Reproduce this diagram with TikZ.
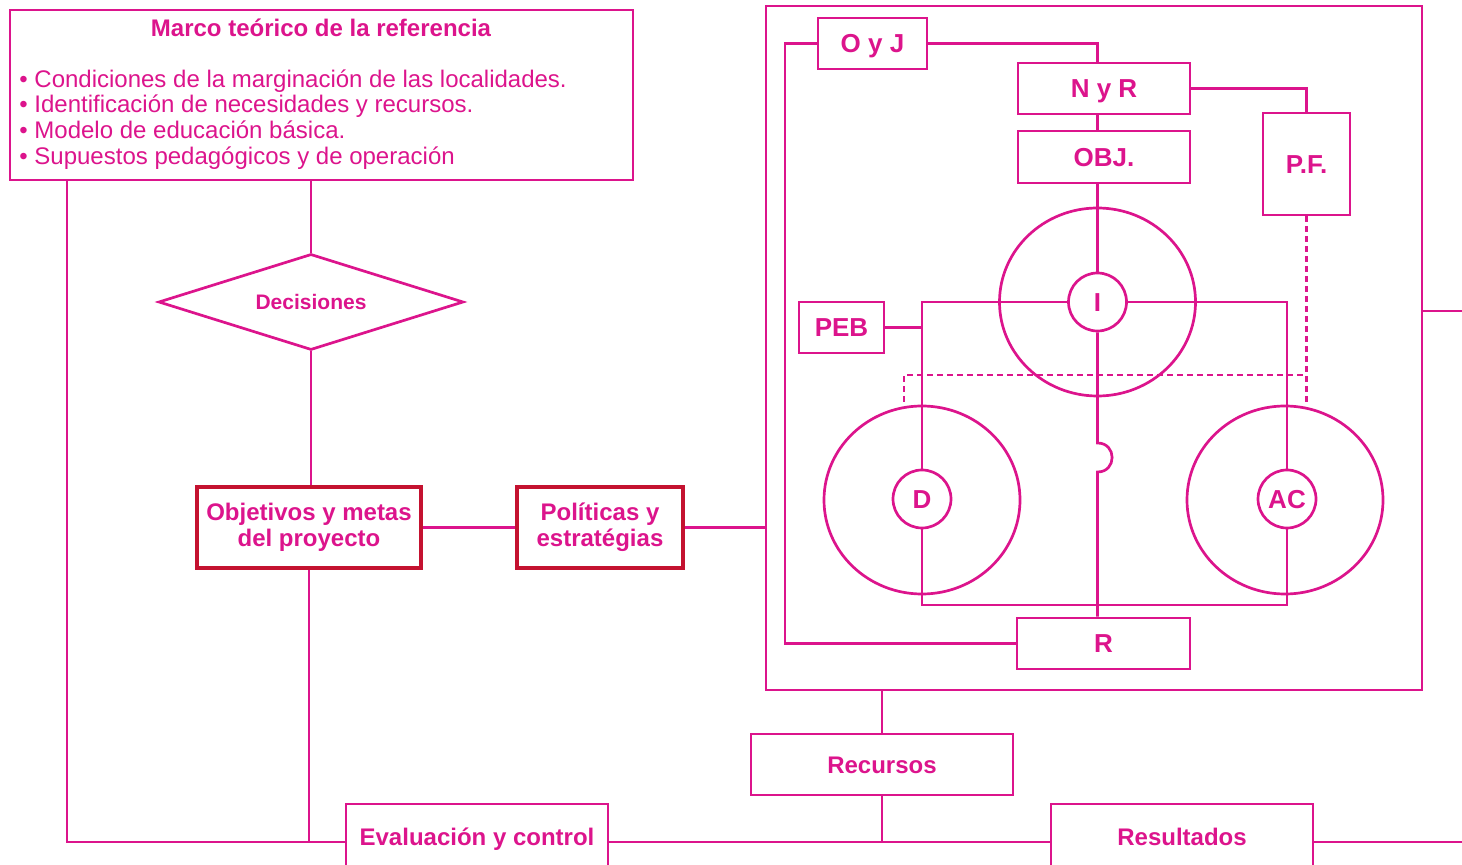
\documentclass[tikz,border=0pt]{standalone}
\usepackage{fontspec}
\setmainfont{Liberation Sans}
\usetikzlibrary{shapes.geometric}
\definecolor{mag}{RGB}{220,20,140}
\definecolor{dred}{RGB}{196,18,48}
\begin{document}
\begin{tikzpicture}[x=0.5pt,y=-0.5pt,
  ln/.style={draw=mag,line width=1.35pt},
  dsh/.style={draw=mag,line width=1.35pt,dash pattern=on 3pt off 2pt},
  bx/.style={draw=mag,line width=1.35pt,inner sep=0pt,text=mag,font=\bfseries\fontsize{12}{13}\selectfont,align=center},
  rbx/.style={bx,draw=dred,line width=1.6pt},
  one/.style={text height=8.6pt,text depth=0pt},
  onebig/.style={font=\bfseries\fontsize{13}{15}\selectfont,text height=9.4pt,text depth=0pt},
  txt/.style={inner sep=0pt,text=mag,text height=8.6pt,text depth=0pt},
  bigc/.style={draw=mag,line width=1.35pt,ellipse,minimum width=98pt,minimum height=94pt,inner sep=0pt},
  smc/.style={draw=mag,line width=1.35pt,circle,minimum size=29pt,inner sep=0pt,text=mag,onebig}]
\useasboundingbox (0,0) rectangle (1462,865);
\clip (0,0) rectangle (1462,865);

% coordinates for free ends
\coordinate (bl) at (67,842);
\coordinate (br) at (1462,842);
\coordinate (rt) at (1462,311);
\coordinate (lx) at (785,0);
\coordinate (bot) at (0,605);
\coordinate (dA) at (904,402);
\coordinate (dB) at (904,375);
\coordinate (bumpA) at (1097.5,443);
\coordinate (bumpB) at (1097.5,472);

% left part
\node[bx,minimum width=311.5pt,minimum height=85pt] (marco) at (321.5,95) {};
\node[txt,font=\bfseries\fontsize{12}{13}\selectfont] (mtitle) at (321,28) {Marco teórico de la referencia};
\node[txt,anchor=west,font=\fontsize{12}{13}\selectfont] (b1) at (19,79) {• Condiciones de la marginación de las localidades.};
\node[txt,anchor=west,font=\fontsize{12}{13}\selectfont] (b2) at (19,104) {• Identificación de necesidades y recursos.};
\node[txt,anchor=west,font=\fontsize{12}{13}\selectfont] (b3) at (19,130) {• Modelo de educación básica.};
\node[txt,anchor=west,font=\fontsize{12}{13}\selectfont] (b4) at (19,156) {• Supuestos pedagógicos y de operación};

\node[bx,shape=diamond,aspect=3.2,minimum width=152.5pt,minimum height=48pt,font=\bfseries\fontsize{10.5}{12}\selectfont,text height=7.5pt,text depth=0pt] (dec) at (311,302) {Decisiones};
\node[rbx,minimum width=112pt,minimum height=40.5pt] (objm) at (309,527.5) {Objetivos y metas\\del proyecto};
\node[rbx,minimum width=83pt,minimum height=40.5pt] (pol) at (600,527.5) {Políticas y\\estratégias};

% main block
\node[bx,minimum width=328pt,minimum height=342pt] (main) at (1094,348) {};
\node[bx,onebig,minimum width=54.5pt,minimum height=25.5pt] (oyj) at (872.5,43.5) {O y J};
\node[bx,onebig,minimum width=86pt,minimum height=25.5pt] (nyr) at (1104,88.5) {N y R};
\node[bx,onebig,minimum width=86pt,minimum height=26pt] (obj) at (1104,157) {OBJ.};
\node[bx,onebig,minimum width=43.5pt,minimum height=51pt] (pf) at (1306.5,164) {P.F.};
\node[bx,onebig,minimum width=42.5pt,minimum height=25.5pt] (peb) at (841.5,327.5) {PEB};
\node[bx,onebig,minimum width=86.5pt,minimum height=25.5pt] (r) at (1103.5,643.5) {R};

\node[bigc] (bigI) at (1097.5,302) {};
\node[bigc] (bigD) at (922,500) {};
\node[bigc] (bigAC) at (1285,500) {};
\node[smc] (smI) at (1097.5,302) {I};
\node[smc] (smD) at (922,499) {D};
\node[smc] (smAC) at (1287,499) {AC};

% bottom
\node[bx,one,minimum width=131pt,minimum height=30.5pt] (rec) at (882,764.5) {Recursos};
\node[bx,one,minimum width=131pt,minimum height=33pt] (eval) at (477,837) {Evaluación y control};
\node[bx,one,minimum width=131pt,minimum height=33pt] (res) at (1182,837) {Resultados};

% connectors left
\draw[ln] (marco.south -| bl) -- (bl) -- (bl -| eval.west);
\draw[ln] (marco.south -| dec.north) -- (dec.north);
\draw[ln] (dec.south) -- (dec.south |- objm.north);
\draw[ln] (objm.south) -- (objm.south |- bl);
\draw[ln] (objm.east) -- (pol.west);
\draw[ln] (pol.east) -- (pol.east -| main.west);
\draw[ln] (main.east |- rt) -- (rt);
\draw[ln] (rec.north |- main.south) -- (rec.north);
\draw[ln] (rec.south) -- (rec.south |- bl);
\draw[ln] (eval.east |- bl) -- (res.west |- bl);
\draw[ln] (res.east |- bl) -- (br);

% connectors inside
\draw[ln] (oyj.west) -| (lx |- r.west) -- (r.west);
\draw[ln] (oyj.east) -| (smI |- nyr.north);
\draw[ln] (smI |- nyr.south) -- (smI |- obj.north);
\draw[ln] (smI |- obj.south) -- (smI.north);
\draw[ln] (nyr.east) -| (pf.north);
\draw[ln] (smI.west) -| (smD.north);
\draw[ln] (smI.east) -| (smAC.north);
\draw[ln] (peb.east) -- (peb.east -| smD);
\draw[ln] (smD.south) -- (smD |- bot) -| (smAC.south);
\draw[ln] (smI.south) -- (bumpA) .. controls (1117,443) and (1117,472) .. (bumpB) -- (smI |- r.north);

% dashed
\draw[dsh] (pf.south) -- (pf.south |- dA);
\draw[dsh] (dA) -- (dB) -- (dB -| pf.south);
\end{tikzpicture}
\end{document}
